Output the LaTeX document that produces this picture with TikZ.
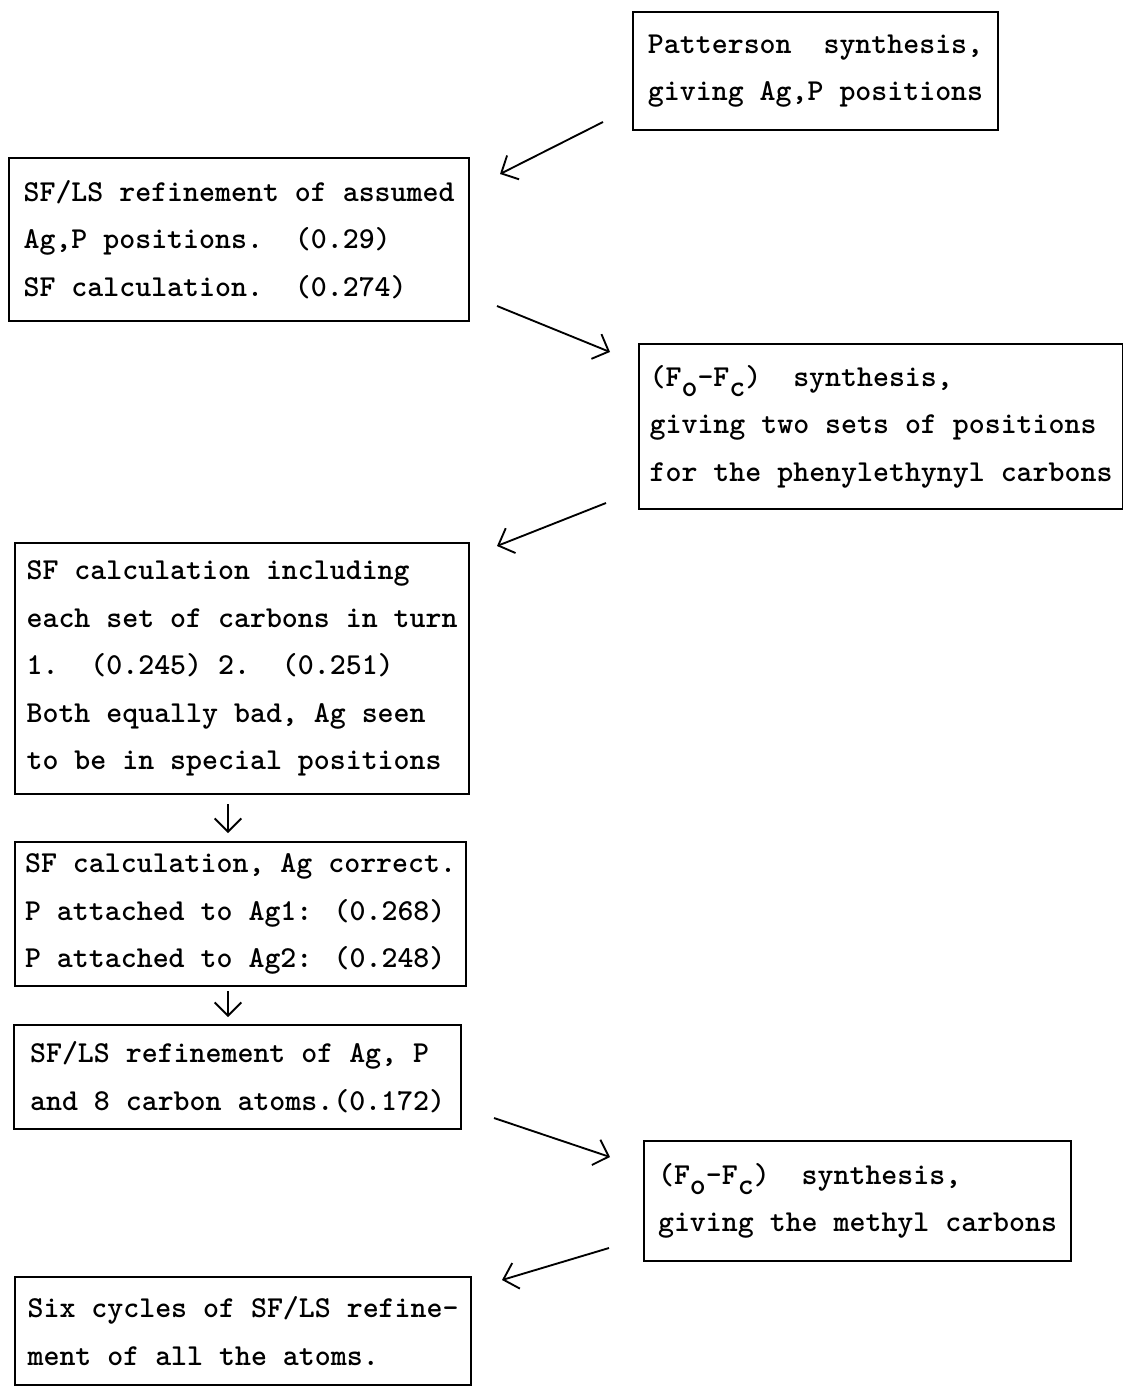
\documentclass[tikz,border=0pt]{standalone}
\usepackage{fontspec}
\usetikzlibrary{arrows.meta}

\newcommand{\lowsub}[1]{\raisebox{-0.75ex}{#1}}

\tikzset{
  stage/.style={draw, line width=1.6pt, anchor=north west, align=left, inner xsep=0pt,
    font=\ttfamily\bfseries\fontsize{22.8pt}{35.6pt}\selectfont},
  flow/.style={line width=1.4pt, -{Straight Barb[length=10pt,width=20pt,line width=1.4pt]}}
}

\begin{document}
\begin{tikzpicture}[x=0.75pt, y=-0.75pt]
  \useasboundingbox (0,0) rectangle (1123,1386);

  \node[stage, minimum width=273.75pt, minimum height=88.5pt] (patt) at (632,11)
    {Patterson~~synthesis,\\giving Ag,P positions};
  \node[stage, minimum width=345pt, minimum height=122.25pt] (sfls) at (8,157)
    {SF/LS refinement of assumed\\Ag,P positions.~~(0.29)\\SF calculation.~~(0.274)};
  \node[stage, minimum width=363pt, minimum height=123.75pt] (diffa) at (638,343)
    {(F\lowsub{o}-F\lowsub{c})~~synthesis,\\giving two sets of positions\\for the phenylethynyl carbons};
  \node[stage, minimum width=340.5pt, minimum height=188.25pt] (sfcalc) at (14,542)
    {SF calculation including\\each set of carbons in turn\\1.~~(0.245) 2.~~(0.251)\\Both equally bad, Ag seen\\to be in special positions};
  \node[stage, minimum width=338.25pt, minimum height=108pt] (agok) at (14,841)
    {SF calculation, Ag correct.\\P attached to Ag1: (0.268)\\P attached to Ag2: (0.248)};
  \node[stage, minimum width=335.25pt, minimum height=78pt] (sflsc) at (13,1024)
    {SF/LS refinement of Ag, P\\and 8 carbon atoms.(0.172)};
  \node[stage, minimum width=320.25pt, minimum height=90pt] (diffb) at (643,1140)
    {(F\lowsub{o}-F\lowsub{c})~~synthesis,\\giving the methyl carbons};
  \node[stage, minimum width=342pt, minimum height=81pt] (six) at (14,1276)
    {Six cycles of SF/LS refine-\\ment of all the atoms.};

  \coordinate (patt-out) at (603,122);
  \coordinate (sfls-in) at (500,174);
  \coordinate (sfls-out) at (497,306);
  \coordinate (diffa-in) at (610,352);
  \coordinate (diffa-out) at (606,503);
  \coordinate (sfcalc-in) at (497,546);
  \coordinate (sfcalc-out) at (228,804);
  \coordinate (agok-in) at (228,833);
  \coordinate (agok-out) at (228,991);
  \coordinate (sflsc-in) at (228,1017);
  \coordinate (sflsc-out) at (494,1118);
  \coordinate (diffb-in) at (610,1157);
  \coordinate (diffb-out) at (609,1248);
  \coordinate (six-in) at (502,1280);

  \draw[flow] (patt-out) -- (sfls-in);
  \draw[flow] (sfls-out) -- (diffa-in);
  \draw[flow] (diffa-out) -- (sfcalc-in);
  \draw[flow] (sfcalc-out) -- (agok-in);
  \draw[flow] (agok-out) -- (sflsc-in);
  \draw[flow] (sflsc-out) -- (diffb-in);
  \draw[flow] (diffb-out) -- (six-in);
\end{tikzpicture}
\end{document}
